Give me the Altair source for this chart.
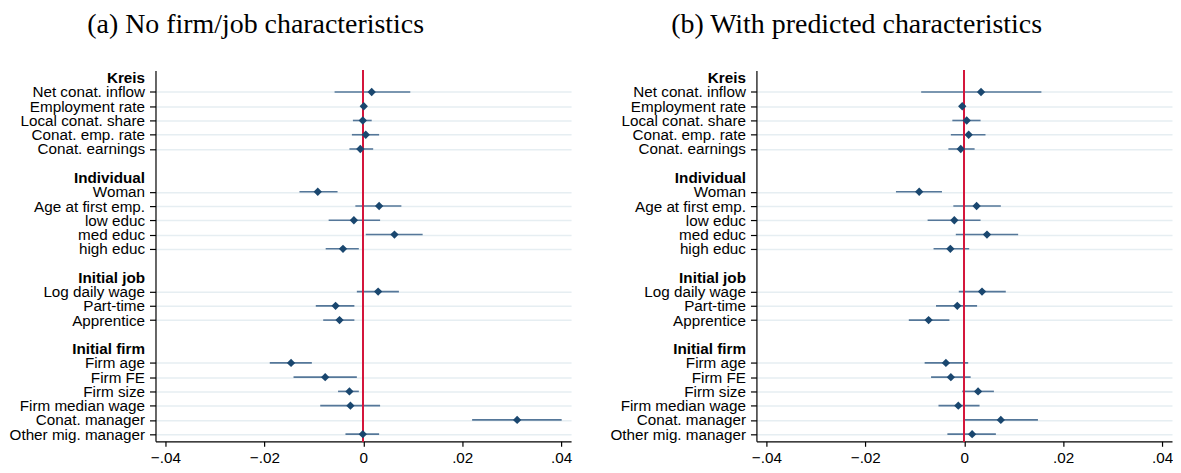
import altair as alt
import pandas as pd

# Row layout (group headers, variables, blank spacer rows)
row_order = [
    "Kreis", "Net conat. inflow", "Employment rate", "Local conat. share",
    "Conat. emp. rate", "Conat. earnings", " ",
    "Individual", "Woman", "Age at first emp.", "low educ", "med educ", "high educ", "  ",
    "Initial job", "Log daily wage", "Part-time", "Apprentice", "   ",
    "Initial firm", "Firm age", "Firm FE", "Firm size", "Firm median wage",
    "Conat. manager", "Other mig. manager",
]
headers = ["Kreis", "Individual", "Initial job", "Initial firm"]

variables = [
    "Net conat. inflow", "Employment rate", "Local conat. share", "Conat. emp. rate",
    "Conat. earnings", "Woman", "Age at first emp.", "low educ", "med educ", "high educ",
    "Log daily wage", "Part-time", "Apprentice", "Firm age", "Firm FE", "Firm size",
    "Firm median wage", "Conat. manager", "Other mig. manager",
]

# (a) No firm/job characteristics
est_a = [0.0017, 0.0001, -0.0001, 0.0005, -0.0006, -0.0092, 0.0032, -0.0019, 0.0063, -0.0041,
         0.0030, -0.0056, -0.0048, -0.0146, -0.0077, -0.0028, -0.0026, 0.0311, -0.0001]
lo_a = [-0.0058, -0.0002, -0.0021, -0.0023, -0.0028, -0.0129, -0.0016, -0.0070, 0.0005, -0.0076,
        -0.0013, -0.0096, -0.0081, -0.0189, -0.0141, -0.0051, -0.0087, 0.0220, -0.0036]
hi_a = [0.0095, 0.0004, 0.0017, 0.0032, 0.0020, -0.0052, 0.0077, 0.0034, 0.0120, -0.0009,
        0.0072, -0.0018, -0.0018, -0.0104, -0.0013, -0.0009, 0.0034, 0.0401, 0.0032]

# (b) With predicted characteristics
est_b = [0.0034, -0.0004, 0.0005, 0.0009, -0.0007, -0.0091, 0.0025, -0.0020, 0.0046, -0.0028,
         0.0036, -0.0014, -0.0072, -0.0037, -0.0027, 0.0028, -0.0012, 0.0074, 0.0016]
lo_b = [-0.0087, -0.0007, -0.0024, -0.0027, -0.0032, -0.0138, -0.0022, -0.0074, -0.0017, -0.0062,
        -0.0011, -0.0057, -0.0112, -0.0080, -0.0067, -0.0004, -0.0052, 0.0000, -0.0034]
hi_b = [0.0156, -0.0001, 0.0033, 0.0043, 0.0021, -0.0045, 0.0074, 0.0033, 0.0109, 0.0010,
        0.0084, 0.0026, -0.0030, 0.0008, 0.0013, 0.0060, 0.0031, 0.0149, 0.0064]

x_ticks = [-0.04, -0.02, 0, 0.02, 0.04]

header_test = "indexof(" + str(headers) + ", datum.value) >= 0"
nonitem_test = "(" + header_test + ") || trim(datum.value) == ''"

NAVY = "#1a476f"
CI = "#557799"
RED = "#d4173d"


def panel(est, lo, hi, title):
    df = pd.DataFrame({"var": variables, "est": est, "lo": lo, "hi": hi})
    xscale = alt.Scale(domain=[-0.042, 0.042], nice=False, zero=False)
    xaxis = alt.Axis(
        values=x_ticks, title=None, grid=False, tickSize=5, labelPadding=4,
        labelExpr="datum.value == 0 ? '0' : replace(format(datum.value, '.2f'), '0.', '.')",
    )
    y = alt.Y(
        "var:N",
        scale=alt.Scale(domain=row_order, type="point", padding=0.5),
        axis=alt.Axis(
            title=None, grid=True, gridColor="#e6eef2", gridWidth=1.5,
            tickSize=6, labelPadding=5, labelLimit=300,
            labelFontWeight={"condition": {"test": header_test, "value": "bold"}, "value": "normal"},
            tickOpacity={"condition": {"test": nonitem_test, "value": 0}, "value": 1},
            gridOpacity={"condition": {"test": nonitem_test, "value": 0}, "value": 1},
        ),
    )
    base = alt.Chart(df)
    ci = base.mark_rule(color=CI, strokeWidth=1.6).encode(
        x=alt.X("lo:Q", scale=xscale, axis=xaxis), x2="hi:Q", y=y
    )
    zero = base.mark_rule(color=RED, strokeWidth=1.3).encode(x=alt.datum(0))
    pts = base.mark_point(shape="diamond", filled=True, size=70, opacity=1, color=NAVY).encode(
        x=alt.X("est:Q", scale=xscale, axis=xaxis), y=y
    )
    return alt.layer(ci, zero, pts).properties(
        width=417, height=372,
        title=alt.TitleParams(
            text=title, font="Liberation Serif", fontSize=28, fontWeight="normal",
            color="black", anchor="middle", dx=-108, offset=31,
        ),
    )


chart = alt.hconcat(
    panel(est_a, lo_a, hi_a, "(a) No firm/job characteristics"),
    panel(est_b, lo_b, hi_b, "(b) With predicted characteristics"),
    spacing=37,
).properties(
    padding={"left": 0, "top": 2, "right": 0, "bottom": 0},
    background="white",
).configure_view(strokeWidth=0).configure_axis(
    domainColor="black", domainWidth=1.2, tickColor="black", tickWidth=1.2,
    labelColor="black", labelFont="Liberation Sans", labelFontSize=15.3,
)

chart.save("out.html", embed_options={"renderer": "svg", "actions": False})
